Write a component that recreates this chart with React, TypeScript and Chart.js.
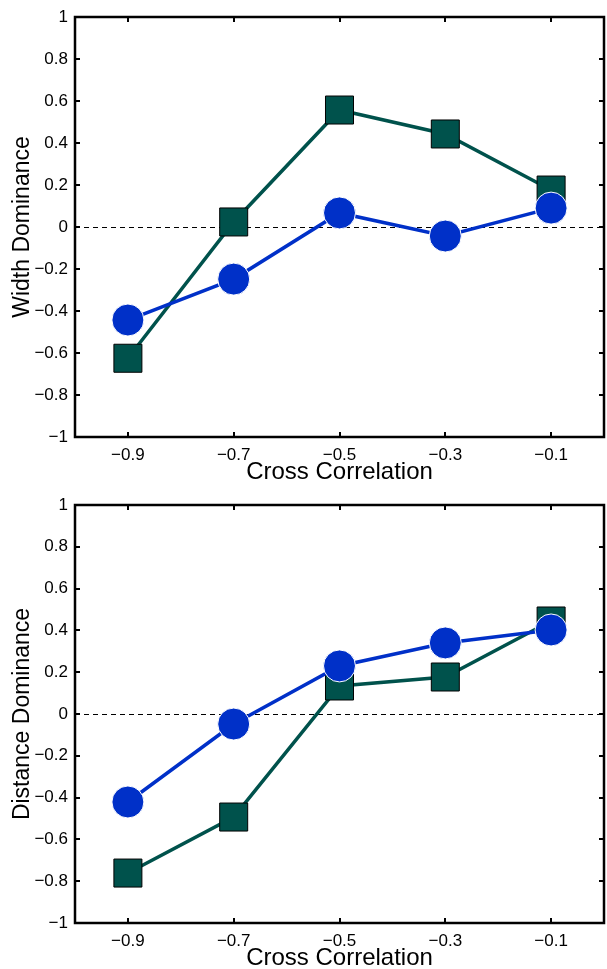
import React, { useEffect, useRef } from "react";
import { Chart, registerables } from "chart.js";

Chart.register(...registerables);

const crossCorrelation = [-0.9, -0.7, -0.5, -0.3, -0.1];
const xTickValues = [-0.9, -0.7, -0.5, -0.3, -0.1];
const yTickValues = [-1, -0.8, -0.6, -0.4, -0.2, 0, 0.2, 0.4, 0.6, 0.8, 1];

const widthSquares = [-0.625, 0.024, 0.557, 0.443, 0.176];
const widthCircles = [-0.443, -0.248, 0.067, -0.043, 0.09];

const distanceSquares = [-0.761, -0.493, 0.134, 0.177, 0.445];
const distanceCircles = [-0.421, -0.048, 0.23, 0.34, 0.402];

const TEAL = "#00524c";
const BLUE = "#0030c8";
const FONT = "'Liberation Sans', Arial, Helvetica, sans-serif";

const fmt = (v: number) => {
  const r = Math.round(v * 10) / 10;
  const s = String(Math.abs(r));
  return r < 0 ? "\u2212" + s : s;
};

const boxPlugin = {
  id: "matlabBox",
  beforeDatasetsDraw(chart: any) {
    const { ctx, chartArea: a, scales } = chart;
    const y0 = scales.y.getPixelForValue(0);
    ctx.save();
    ctx.strokeStyle = "#000";
    ctx.lineWidth = 1;
    ctx.setLineDash([5, 4]);
    ctx.beginPath();
    ctx.moveTo(a.left, y0 + 0.5);
    ctx.lineTo(a.right, y0 + 0.5);
    ctx.stroke();
    ctx.restore();
  },
  afterDatasetsDraw(chart: any) {
    const { ctx, chartArea: a, scales } = chart;
    ctx.save();
    ctx.strokeStyle = "#000";
    ctx.lineWidth = 2.5;
    ctx.setLineDash([]);
    ctx.strokeRect(a.left, a.top, a.right - a.left, a.bottom - a.top);
    ctx.lineWidth = 2;
    const tl = 5;
    ctx.beginPath();
    for (const v of xTickValues) {
      const px = Math.round(scales.x.getPixelForValue(v));
      ctx.moveTo(px, a.bottom);
      ctx.lineTo(px, a.bottom - tl);
      ctx.moveTo(px, a.top);
      ctx.lineTo(px, a.top + tl);
    }
    for (const v of yTickValues) {
      const py = Math.round(scales.y.getPixelForValue(v));
      ctx.moveTo(a.left, py);
      ctx.lineTo(a.left + tl, py);
      ctx.moveTo(a.right, py);
      ctx.lineTo(a.right - tl, py);
    }
    ctx.stroke();
    ctx.restore();
  },
};

type PanelProps = {
  top: number;
  height: number;
  padTop: number;
  plotBottom: number;
  titlePad: number;
  yTitle: string;
  squares: number[];
  circles: number[];
};

function Panel(p: PanelProps) {
  const ref = useRef<HTMLCanvasElement | null>(null);
  useEffect(() => {
    if (!ref.current) return;
    const chart = new Chart(ref.current, {
      type: "line",
      data: {
        datasets: [
          {
            label: "circles",
            data: crossCorrelation.map((x, i) => ({ x, y: p.circles[i] })),
            borderColor: BLUE,
            borderWidth: 3.5,
            pointStyle: "circle",
            pointRadius: 16,
            pointBackgroundColor: BLUE,
            pointBorderColor: "#ffffff",
            pointBorderWidth: 1,
            tension: 0,
            clip: false,
          },
          {
            label: "squares",
            data: crossCorrelation.map((x, i) => ({ x, y: p.squares[i] })),
            borderColor: TEAL,
            borderWidth: 3.5,
            pointStyle: "rect",
            pointRadius: 19.8,
            pointBackgroundColor: TEAL,
            pointBorderColor: "#000000",
            pointBorderWidth: 1,
            tension: 0,
            clip: false,
          },
        ],
      },
      options: {
        responsive: false,
        animation: false,
        maintainAspectRatio: false,
        layout: { autoPadding: false, padding: { top: p.padTop, right: 3, left: 0, bottom: 0 } },
        plugins: { legend: { display: false }, tooltip: { enabled: false } },
        scales: {
          x: {
            type: "linear",
            min: -1,
            max: 0,
            grid: { display: false, drawTicks: false },
            border: { display: false },
            afterBuildTicks: (s: any) => {
              s.ticks = xTickValues.map((v) => ({ value: v }));
            },
            afterFit: (s: any) => {
              s.height = p.height - p.plotBottom;
              s.paddingLeft = 0;
              s.paddingRight = 0;
            },
            ticks: {
              autoSkip: false,
              maxRotation: 0,
              padding: 8,
              color: "#000",
              font: { family: FONT, size: 17 },
              callback: (v: any) => fmt(Number(v)),
            },
            title: {
              display: true,
              text: "Cross Correlation",
              color: "#000",
              font: { family: FONT, size: 24, lineHeight: 0.8 },
              padding: { top: 0, bottom: p.titlePad },
            },
          },
          y: {
            type: "linear",
            min: -1,
            max: 1,
            grid: { display: false, drawTicks: false },
            border: { display: false },
            afterBuildTicks: (s: any) => {
              s.ticks = yTickValues.map((v) => ({ value: v }));
            },
            afterFit: (s: any) => {
              s.width = 75;
              s.paddingTop = 0;
              s.paddingBottom = 0;
            },
            ticks: {
              autoSkip: false,
              padding: 7,
              color: "#000",
              font: { family: FONT, size: 17 },
              callback: (v: any) => fmt(Number(v)),
            },
            title: {
              display: true,
              text: p.yTitle,
              color: "#000",
              font: { family: FONT, size: 23, lineHeight: 1 },
              padding: { top: 11, bottom: 0 },
            },
          },
        },
      },
      plugins: [boxPlugin],
    } as any);
    return () => chart.destroy();
  }, []);
  return (
    <canvas
      ref={ref}
      width={607}
      height={p.height}
      style={{ position: "absolute", left: 0, top: p.top, width: 607, height: p.height }}
    />
  );
}

export default function App() {
  return (
    <div style={{ position: "absolute", left: 0, top: 0, width: 607, height: 969, background: "#fff", overflow: "hidden" }}>
      <Panel top={0} height={485} padTop={17} plotBottom={437} titlePad={2.9} yTitle="Width Dominance" squares={widthSquares} circles={widthCircles} />
      <Panel top={485} height={484} padTop={20} plotBottom={438} titlePad={1} yTitle="Distance Dominance" squares={distanceSquares} circles={distanceCircles} />
    </div>
  );
}
